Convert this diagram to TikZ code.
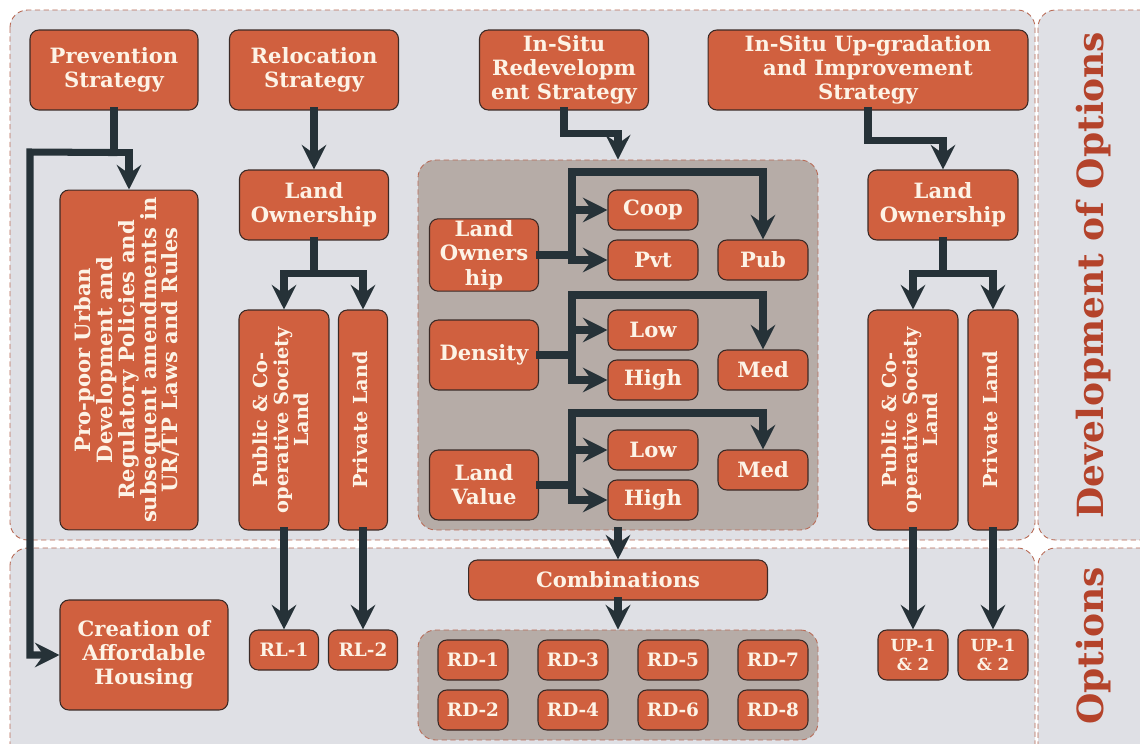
\documentclass[tikz,border=0pt]{standalone}
\usepackage{fontspec}
\setmainfont{DejaVu Serif}
\usepackage{tikz}
\usetikzlibrary{arrows.meta, positioning, calc}

\definecolor{boxfill}{HTML}{D0603F}
\definecolor{boxline}{HTML}{3B2A26}
\definecolor{boxtext}{HTML}{FDF3E6}
\definecolor{arrowc}{HTML}{263238}
\definecolor{panelbg}{HTML}{DFE0E5}
\definecolor{panelline}{HTML}{B86A55}
\definecolor{greyp}{HTML}{B6ACA7}
\definecolor{sidec}{HTML}{B4432B}

\newcommand{\vlabel}[1]{\rotatebox{90}{\def\arraystretch{0.82}\begin{tabular}{@{}c@{}}#1\end{tabular}}}

\begin{document}
\begin{tikzpicture}[x=0.02cm, y=-0.02cm,
    box/.style={draw=boxline, fill=boxfill, rounded corners=5pt, text=boxtext,
      font=\bfseries\fontsize{12}{13.8}\selectfont, align=center, inner sep=1pt, line width=0.6pt},
    smallbox/.style={box, font=\bfseries\fontsize{10.5}{11.5}\selectfont},
    vbox/.style={box, font=\bfseries\fontsize{11}{13.5}\selectfont},
    link/.style={draw=arrowc, line width=4pt, line cap=rect},
    arrow/.style={link, -{Stealth[length=14pt, width=14pt, inset=5pt]}},
    panel/.style={fill=panelbg, draw=panelline, densely dashed, line width=0.5pt, rounded corners=10pt},
    greybox/.style={fill=greyp, draw=panelline, densely dashed, line width=0.5pt, rounded corners=10pt},
    sidelbl/.style={text=sidec, font=\bfseries\fontsize{20.5}{24}\selectfont}]

    \clip (0,0) rectangle (1140,744);
    \fill[white] (0,0) rectangle (1140,744);

    % Panels
    \draw[panel] (10,10) rectangle (1035,540);
    \draw[panel] (1038,10) rectangle (1160,540);
    \draw[panel] (10,548) rectangle (1035,770);
    \draw[panel] (1038,548) rectangle (1160,770);
    \node[greybox, minimum width=8cm, minimum height=7.4cm] (opts) at (618,345) {};
    \node[greybox, minimum width=8cm, minimum height=2.2cm] (rdp) at (618,685) {};

    % Side labels
    \node[sidelbl, rotate=90] (devlbl) at (1094,275) {Development of Options};
    \node[sidelbl, rotate=90] (optlbl) at (1094,646) {Options};

    % Strategies
    \node[box, minimum width=3.36cm, minimum height=1.6cm] (prev) at (114,70) {Prevention\\Strategy};
    \node[box, minimum width=3.38cm, minimum height=1.6cm] (reloc) at (314,70) {Relocation\\Strategy};
    \node[box, minimum width=3.38cm, minimum height=1.6cm] (redev) at (564,70) {In-Situ\\Redevelopm\\ent Strategy};
    \node[box, minimum width=6.4cm, minimum height=1.6cm] (upgr) at (868,70) {In-Situ Up-gradation\\and Improvement\\Strategy};

    % Prevention
    \node[box, minimum width=2.76cm, minimum height=6.8cm] (propoor) at (129,360)
      {\vlabel{Pro-poor Urban\\Development and\\Regulatory Policies and\\subsequent amendments in\\UR/TP Laws and Rules}};
    \node[box, minimum width=3.36cm, minimum height=2.2cm] (aff) at (144,655) {Creation of\\Affordable\\Housing};

    % Relocation
    \node[box, minimum width=2.98cm, minimum height=1.4cm] (lo1) at (314,205) {Land\\Ownership};
    \node[vbox, minimum width=1.8cm, minimum height=4.4cm] (pub1) at (284,420) {\vlabel{Public \& Co-\\operative Society\\Land}};
    \node[vbox, minimum width=0.98cm, minimum height=4.4cm] (priv1) at (363,420) {\vlabel{Private Land}};
    \node[smallbox, minimum width=1.38cm, minimum height=0.8cm] (rl1) at (284,650) {RL-1};
    \node[smallbox, minimum width=1.38cm, minimum height=0.8cm] (rl2) at (363,650) {RL-2};

    % Redevelopment
    \node[box, minimum width=2.18cm, minimum height=1.4cm] (lo2) at (484,255) {Land\\Owners\\hip};
    \node[box, minimum width=1.8cm, minimum height=0.8cm] (coop) at (653,210) {Coop};
    \node[box, minimum width=1.8cm, minimum height=0.8cm] (pvt) at (653,260) {Pvt};
    \node[box, minimum width=1.8cm, minimum height=0.8cm] (pub) at (763,260) {Pub};
    \node[box, minimum width=2.18cm, minimum height=1.4cm] (dens) at (484,355) {Density};
    \node[box, minimum width=1.8cm, minimum height=0.8cm] (low1) at (653,330) {Low};
    \node[box, minimum width=1.8cm, minimum height=0.8cm] (high1) at (653,380) {High};
    \node[box, minimum width=1.8cm, minimum height=0.8cm] (med1) at (763,370) {Med};
    \node[box, minimum width=2.18cm, minimum height=1.4cm] (lval) at (484,485) {Land\\Value};
    \node[box, minimum width=1.8cm, minimum height=0.8cm] (low2) at (653,450) {Low};
    \node[box, minimum width=1.8cm, minimum height=0.8cm] (high2) at (653,500) {High};
    \node[box, minimum width=1.8cm, minimum height=0.8cm] (med2) at (763,470) {Med};
    \node[box, minimum width=5.98cm, minimum height=0.8cm] (comb) at (618,580) {Combinations};
    \node[smallbox, minimum width=1.4cm, minimum height=0.8cm] (rd1) at (473,660) {RD-1};
    \node[smallbox, minimum width=1.4cm, minimum height=0.8cm] (rd2) at (473,710) {RD-2};
    \node[smallbox, minimum width=1.4cm, minimum height=0.8cm] (rd3) at (573,660) {RD-3};
    \node[smallbox, minimum width=1.4cm, minimum height=0.8cm] (rd4) at (573,710) {RD-4};
    \node[smallbox, minimum width=1.4cm, minimum height=0.8cm] (rd5) at (673,660) {RD-5};
    \node[smallbox, minimum width=1.4cm, minimum height=0.8cm] (rd6) at (673,710) {RD-6};
    \node[smallbox, minimum width=1.4cm, minimum height=0.8cm] (rd7) at (773,660) {RD-7};
    \node[smallbox, minimum width=1.4cm, minimum height=0.8cm] (rd8) at (773,710) {RD-8};

    % Up-gradation
    \node[box, minimum width=3.0cm, minimum height=1.4cm] (lo3) at (943,205) {Land\\Ownership};
    \node[vbox, minimum width=1.8cm, minimum height=4.4cm] (pub3) at (913,420) {\vlabel{Public \& Co-\\operative Society\\Land}};
    \node[vbox, minimum width=1.0cm, minimum height=4.4cm] (priv3) at (993,420) {\vlabel{Private Land}};
    \node[smallbox, font=\bfseries\fontsize{9.5}{11}\selectfont, minimum width=1.4cm, minimum height=1.0cm] (up1) at (913,655) {UP-1\\\& 2};
    \node[smallbox, font=\bfseries\fontsize{9.5}{11}\selectfont, minimum width=1.4cm, minimum height=1.0cm] (up2) at (993,655) {UP-1\\\& 2};

    % Edges: prevention
    \draw[link] (prev.south) -- ++(0,42) coordinate (pj);
    \coordinate (pl) at (30,152);
    \draw[arrow] (pj) -| (propoor.north);
    \draw[arrow] (pj) -- (pl) |- (aff.west);

    % Edges: relocation
    \draw[arrow] (reloc) -- (lo1);
    \draw[link] (lo1.south) -- ++(0,33) coordinate (r1);
    \draw[arrow] (r1) -| (pub1.north);
    \draw[arrow] (r1) -| (priv1.north);
    \draw[arrow] (pub1.south) -- (rl1.north);
    \draw[arrow] (priv1.south) -- (rl2.north);

    % Edges: redevelopment
    \draw[arrow] (redev.south) -- ++(0,23) -| (opts.north);
    \coordinate (a1) at (572,172);
    \coordinate (a2) at (572,295);
    \coordinate (a3) at (572,413);
    \draw[link] (lo2.east) -- (lo2.east -| a1);
    \draw[arrow] (a1 |- pvt.west) -- (a1) -| (pub.north);
    \draw[arrow] (a1 |- coop.west) -- (coop.west);
    \draw[arrow] (a1 |- pvt.west) -- (pvt.west);
    \draw[link] (dens.east) -- (dens.east -| a2);
    \draw[arrow] (a2 |- high1.west) -- (a2) -| (med1.north);
    \draw[arrow] (a2 |- low1.west) -- (low1.west);
    \draw[arrow] (a2 |- high1.west) -- (high1.west);
    \draw[link] (lval.east) -- (lval.east -| a3);
    \draw[arrow] (a3 |- high2.west) -- (a3) -| (med2.north);
    \draw[arrow] (a3 |- low2.west) -- (low2.west);
    \draw[arrow] (a3 |- high2.west) -- (high2.west);
    \draw[arrow] (opts.south) -- (comb.north -| opts.south);
    \draw[arrow] (comb.south -| rdp.north) -- (rdp.north);

    % Edges: up-gradation
    \draw[arrow] (upgr.south) -- ++(0,30) -| (lo3.north);
    \draw[link] (lo3.south) -- ++(0,33) coordinate (u1);
    \draw[arrow] (u1) -| (pub3.north);
    \draw[arrow] (u1) -| (priv3.north);
    \draw[arrow] (pub3.south) -- (up1.north);
    \draw[arrow] (priv3.south) -- (up2.north);
\end{tikzpicture}
\end{document}
